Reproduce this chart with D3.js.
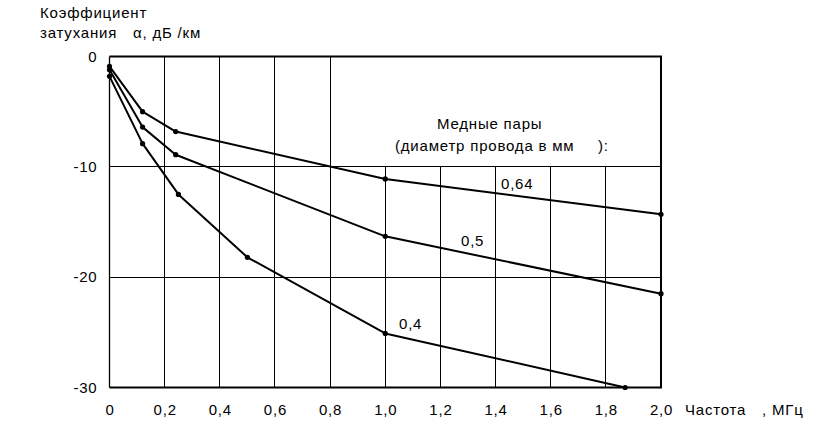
<!DOCTYPE html>
<html><head><meta charset="utf-8">
<script src="https://cdn.jsdelivr.net/npm/d3@7"></script>
<style>
body{margin:0;background:#fff;}
text{font-family:"Liberation Sans",Arial,sans-serif;font-size:15px;fill:#000;letter-spacing:0.8px;}
</style></head>
<body><svg id="c" width="819" height="426"></svg>
<script>
// Data
const xTicks = [0, 0.2, 0.4, 0.6, 0.8, 1.0, 1.2, 1.4, 1.6, 1.8, 2.0];
const yTicks = [0, -10, -20, -30];
const seriesNames = ["0,4", "0,5", "0,64"];
const freq04 = [0, 0.12, 0.25, 0.5, 1.0, 1.87];
const att04 = [-1.8, -7.9, -12.5, -18.2, -25.1, -30];
const freq05 = [0, 0.12, 0.24, 1.0, 2.0];
const att05 = [-1.2, -6.4, -8.9, -16.3, -21.5];
const freq064 = [0, 0.12, 0.24, 1.0, 2.0];
const att064 = [-0.9, -5.0, -6.8, -11.1, -14.3];

const svg = d3.select("#c");
const x = d3.scaleLinear().domain([0, 2]).range([109.5, 661]);
const y = d3.scaleLinear().domain([-30, 0]).range([387.5, 56.5]);

const g = svg.append("g");
// vertical gridlines (legend box clears upper right area)
xTicks.filter(v => v > 0 && v < 2).forEach(v => {
  g.append("line").attr("x1", x(v)).attr("x2", x(v))
    .attr("y1", v <= 0.8 ? y(0) : y(-10)).attr("y2", y(-30))
    .attr("stroke", "#000").attr("stroke-width", 1).attr("shape-rendering", "crispEdges");
});
[-10, -20].forEach(v => {
  g.append("line").attr("x1", x(0)).attr("x2", x(2)).attr("y1", y(v)).attr("y2", y(v))
    .attr("stroke", "#000").attr("stroke-width", 1).attr("shape-rendering", "crispEdges");
});
// frame
g.append("line").attr("x1", x(0)).attr("x2", x(0)).attr("y1", y(0)).attr("y2", y(-30)).attr("stroke", "#000").attr("stroke-width", 1.3);
g.append("line").attr("x1", x(0)).attr("x2", x(2) + 1).attr("y1", y(0)).attr("y2", y(0)).attr("stroke", "#000").attr("stroke-width", 2);
g.append("line").attr("x1", x(2)).attr("x2", x(2)).attr("y1", y(0)).attr("y2", y(-30)).attr("stroke", "#000").attr("stroke-width", 2);
g.append("line").attr("x1", x(0)).attr("x2", x(2) + 1).attr("y1", y(-30)).attr("y2", y(-30)).attr("stroke", "#000").attr("stroke-width", 2);

// axes (labels only)
const fmt = d => d === 0 ? "0" : d3.format(".1f")(d).replace(".", ",");
const xa = svg.append("g").attr("transform", `translate(0,${y(-30)})`)
  .call(d3.axisBottom(x).tickValues(xTicks).tickSize(0).tickPadding(17).tickFormat(fmt));
const ya = svg.append("g").attr("transform", `translate(${x(0)},0)`)
  .call(d3.axisLeft(y).tickValues(yTicks).tickSize(0).tickPadding(12).tickFormat(d => d3.format("d")(d).replace("−", "-")));
[xa, ya].forEach(a => {
  a.select(".domain").remove();
  a.selectAll("text").attr("font-family", null).attr("font-size", null)
    .style("font-size", "15px").style("font-family", '"Liberation Sans",Arial,sans-serif');
});

// series
const series = [
  {name: seriesNames[0], f: freq04, a: att04},
  {name: seriesNames[1], f: freq05, a: att05},
  {name: seriesNames[2], f: freq064, a: att064}
];
const line = d3.line().x(d => x(d[0])).y(d => y(d[1]));
series.forEach(s => {
  const pts = s.f.map((f, i) => [f, s.a[i]]);
  svg.append("path").attr("d", line(pts)).attr("fill", "none")
    .attr("stroke", "#000").attr("stroke-width", 2).attr("stroke-linejoin", "round");
  svg.selectAll(null).data(pts).enter().append("circle")
    .attr("cx", d => x(d[0])).attr("cy", d => y(d[1])).attr("r", 2.6).attr("fill", "#000");
});

// annotations
const T = (tx, ty, s) => svg.append("text").attr("x", tx).attr("y", ty).text(s);
T(40, 18, "Коэффициент");
T(40, 38, "затухания");
T(133, 38, "α, дБ /км");
T(437, 129, "Медные пары");
T(395, 151, "(диаметр провода в мм");
T(598, 151, "):");
T(501, 189, seriesNames[2]);
T(461, 246, seriesNames[1]);
T(399, 329, seriesNames[0]);
T(685, 415, "Частота");
T(762, 415, ", МГц");
</script></body></html>
